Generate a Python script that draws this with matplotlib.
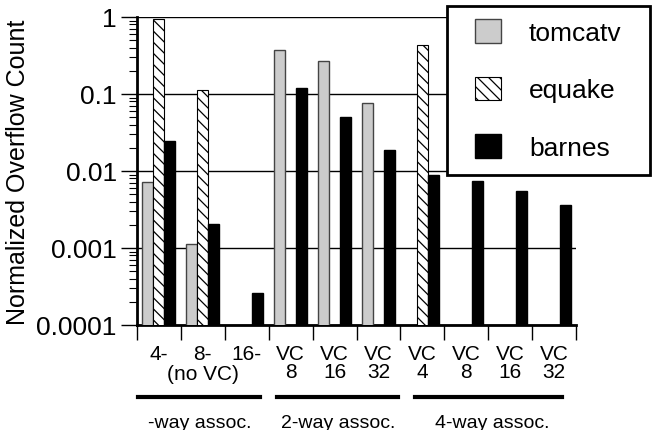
import numpy as np
import matplotlib
matplotlib.use('Agg')
import matplotlib.pyplot as plt
from matplotlib.ticker import LogLocator, NullFormatter, FixedLocator
from matplotlib.patches import Rectangle
import matplotlib.transforms as mtransforms

plt.rcParams['font.family'] = ['Liberation Sans', 'DejaVu Sans']
plt.rcParams['hatch.linewidth'] = 0.9

# data (nan = no bar drawn)
tick_labels = ['4-', '8-', '16-', 'VC\n8', 'VC\n16', 'VC\n32',
               'VC\n4', 'VC\n8', 'VC\n16', 'VC\n32']
tomcatv = [0.0071, 0.00113, np.nan, 0.376, 0.268, 0.0757, np.nan, np.nan, np.nan, np.nan]
equake = [0.94, 0.113, np.nan, np.nan, np.nan, np.nan, 0.429, np.nan, np.nan, np.nan]
barnes = [0.0243, 0.00207, 0.00026, 0.121, 0.0508, 0.0187, 0.00887, 0.00748, 0.00545, 0.00362]
groups = ['-way assoc.', '2-way assoc.', '4-way assoc.']

fig = plt.figure(figsize=(6.59, 4.31), dpi=100)
ax = fig.add_axes([137/659, 105/431, 439/659, 308/431])

x = np.arange(len(tick_labels))
w = 0.25
ax.bar(x - w, tomcatv, w, color='#cccccc', edgecolor='#444444', linewidth=1, label='tomcatv', zorder=3)
ax.bar(x, equake, w, color='white', edgecolor='black', linewidth=0.8, hatch='\\\\\\', label='equake', zorder=3)
ax.bar(x + w, barnes, w, color='black', edgecolor='black', linewidth=1, label='barnes', zorder=3)

ax.set_yscale('log')
ax.set_ylim(1e-4, 1)
ax.set_xlim(-0.5, len(tick_labels) - 0.5)
ax.set_yticks([1e-4, 1e-3, 1e-2, 1e-1, 1])
ax.set_yticklabels(['0.0001', '0.001', '0.01', '0.1', '1'])
ax.yaxis.set_minor_locator(LogLocator(base=10, subs=np.arange(2, 10)))
ax.yaxis.set_minor_formatter(NullFormatter())
ax.grid(axis='y', which='major', color='black', linewidth=1, zorder=0)
ax.set_axisbelow(True)
ax.tick_params(axis='y', which='major', length=11.5, width=1, labelsize=19, pad=3)
ax.tick_params(axis='y', which='minor', length=6, width=0.8)

# x ticks: marks at slot boundaries, labels at slot centers
ax.xaxis.set_major_locator(FixedLocator(np.arange(len(tick_labels) + 1) - 0.5))
ax.xaxis.set_major_formatter(NullFormatter())
ax.xaxis.set_minor_locator(FixedLocator(x))
ax.set_xticklabels(tick_labels, minor=True, fontsize=15, linespacing=0.9)
ax.tick_params(axis='x', which='major', length=11, width=1)
ax.tick_params(axis='x', which='minor', length=0, pad=14)

for s in ['top', 'right']:
    ax.spines[s].set_visible(False)
for s in ['left', 'bottom']:
    ax.spines[s].set_linewidth(2)

ax.set_ylabel('Normalized Overflow Count', fontsize=18)
ax.yaxis.set_label_coords(-0.244, 0.5)

# group lines and labels under the axis
trans = mtransforms.blended_transform_factory(ax.transData, ax.transAxes)
ax.text(1, -0.128, '(no VC)', transform=trans, ha='center', va='top', fontsize=15)
spans = [(-0.48, 2.3), (2.68, 5.45), (5.84, 9.18)]
centers = [0.93, 4.09, 7.59]
for (a, b), c, g in zip(spans, centers, groups):
    ax.plot([a, b], [-0.234, -0.234], color='black', linewidth=3, transform=trans, clip_on=False)
    ax.text(c, -0.315, g, transform=trans, ha='center', va='center', fontsize=14)

# legend with its own box
box = Rectangle((447/659, (431-176)/431), 203/659, 169/431, transform=fig.transFigure,
                facecolor='white', edgecolor='black', linewidth=2, clip_on=False, zorder=4)
ax.add_patch(box)
leg = ax.legend(loc='upper left', bbox_to_anchor=(475/659, (431-20)/431), bbox_transform=fig.transFigure,
                fontsize=19, handlelength=1.0, handleheight=1.0, labelspacing=1.2,
                handletextpad=1.05, borderpad=0, borderaxespad=0, frameon=False)
leg.set_zorder(5)

fig.savefig('out.png', dpi=100)
